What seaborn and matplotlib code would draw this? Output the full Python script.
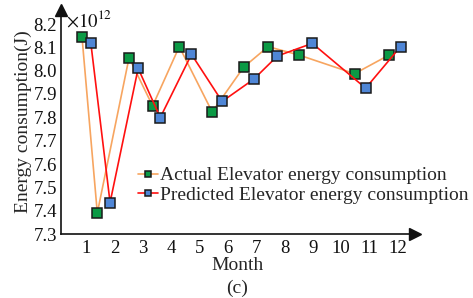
import numpy as np
import pandas as pd
import matplotlib
matplotlib.use("Agg")
import matplotlib.pyplot as plt
import seaborn as sns

# values in units of 1e12 J
actual_month = [0.86, 1.40, 2.52, 3.35, 4.29, 5.45, 6.56, 7.42, 8.51, 10.47, 11.70]
actual_energy = [8.145, 7.39, 8.056, 7.849, 8.103, 7.823, 8.015, 8.103, 8.067, 7.987, 8.068]

pred_month = [1.17, 1.85, 2.84, 3.62, 4.72, 5.80, 6.92, 7.75, 8.98, 10.86, 12.09]
pred_energy = [8.12, 7.435, 8.01, 7.799, 8.07, 7.868, 7.964, 8.063, 8.117, 7.925, 8.103]

month_ticks = list(range(1, 13))
energy_ticks = [7.3, 7.4, 7.5, 7.6, 7.7, 7.8, 7.9, 8.0, 8.1, 8.2]

sns.set_style("white")
plt.rcParams['font.family'] = ['Liberation Serif', 'DejaVu Serif']
plt.rcParams['mathtext.fontset'] = 'stix'

df_a = pd.DataFrame({'Month': actual_month, 'Energy': actual_energy})
df_p = pd.DataFrame({'Month': pred_month, 'Energy': pred_energy})

fig = plt.figure(figsize=(4.73, 2.98), dpi=100)
ax = fig.add_axes([61 / 473, 1 - 234 / 298, (415 - 61) / 473, (234 - 10) / 298])

sns.lineplot(data=df_a, x='Month', y='Energy', sort=False, estimator=None, ax=ax,
             color='#f7a560', linewidth=1.2, marker='s', markersize=6.5,
             markerfacecolor='#0b9a45', markeredgecolor='#1a1a1a', markeredgewidth=1.1,
             label='Actual Elevator energy consumption')
sns.lineplot(data=df_p, x='Month', y='Energy', sort=False, estimator=None, ax=ax,
             color='#ff1010', linewidth=1.2, marker='s', markersize=6.5,
             markerfacecolor='#4f86d6', markeredgecolor='#1a1a1a', markeredgewidth=1.1,
             label='Predicted Elevator energy consumption')

ax.set_xlim(0.12, 12.6)
ax.set_ylim(7.3, 8.26)
ax.set_xticks(month_ticks)
ax.set_yticks(energy_ticks)
ax.set_yticklabels([f"{v:.1f}" for v in energy_ticks])
ax.tick_params(direction='in', length=3, width=1, labelsize=13.5, pad=3, colors='#111111')
ax.tick_params(axis='x', pad=4)

for s in ['top', 'right']:
    ax.spines[s].set_visible(False)
for s in ['left', 'bottom']:
    ax.spines[s].set_color('#111111')
    ax.spines[s].set_linewidth(1.2)

# axis arrows
ax.plot(1, 0, '>', color='#111111', markersize=8, transform=ax.transAxes, clip_on=False)
ax.plot(0, 1, '^', color='#111111', markersize=8, transform=ax.transAxes, clip_on=False)

ax.text(0.015, 1.0, r'$\times10^{12}$', transform=ax.transAxes, fontsize=13.5,
        ha='left', va='top', color='#111111')

ax.set_xlabel('Month', fontsize=14, labelpad=0)
ax.set_ylabel('Energy consumption(J)', fontsize=14, labelpad=1)
fig.text(237 / 473, 1 - 288 / 298, '(c)', fontsize=14, ha='center', va='center')

ax.legend(loc='upper left', bbox_to_anchor=(128 / 473, 1 - 157 / 298),
          bbox_transform=fig.transFigure, frameon=False, fontsize=14,
          handlelength=1.05, handletextpad=0.1, labelspacing=0.12, borderpad=0,
          markerscale=0.75)

fig.savefig('out.png', dpi=100)
